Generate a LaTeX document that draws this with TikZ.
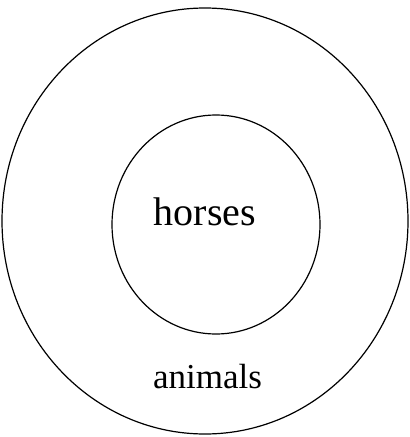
\documentclass[tikz,border=0pt]{standalone}
\usepackage{fontspec}
\setmainfont{Liberation Serif}
\begin{document}
\begin{tikzpicture}[x=1pt,y=-1pt,
  ring/.style={draw=black,line width=1.2pt},
  lbl/.style={anchor=base,inner sep=0pt}]
\useasboundingbox (0,0) rectangle (410,437);
\draw[ring] (205,221) ellipse [x radius=203, y radius=213];
\draw[ring] (216,224.5) ellipse [x radius=104, y radius=109.5];
\node[lbl,font=\fontsize{40}{48}\selectfont] (horses) at (205,225) {horses};
\node[lbl,font=\fontsize{35}{42}\selectfont] (animals) at (207.5,388) {animals};
\end{tikzpicture}
\end{document}
